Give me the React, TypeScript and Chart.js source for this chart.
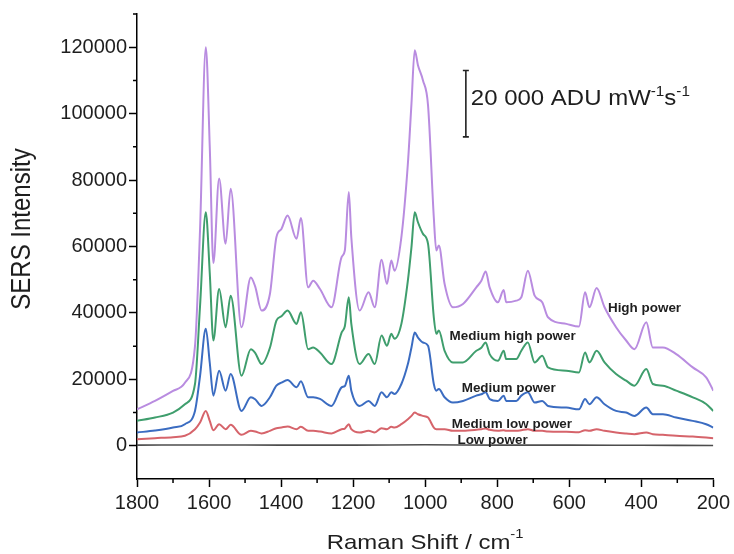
import React, { useEffect, useRef } from "react";
import { Chart, registerables } from "chart.js";

Chart.register(...registerables);

// Raman shift positions (cm-1) at which the spectra were read
const SHIFTS = [
  1800, 1750, 1700, 1667, 1639, 1625, 1609, 1598, 1588, 1572,
  1554, 1540, 1510, 1484, 1472, 1454, 1431, 1413, 1399, 1382,
  1357, 1345, 1325, 1311, 1292, 1260, 1232, 1223, 1212, 1205,
  1182, 1157, 1140, 1121, 1106, 1094, 1085, 1066, 1048, 1038,
  1029, 1020, 1006, 992, 976, 969, 962, 946, 923, 895,
  858, 844, 832, 821, 798, 782, 775, 747, 733, 715,
  696, 675, 659, 608, 573, 556, 544, 524, 502, 470,
  442, 419, 386, 368, 340, 303, 257, 220, 200,
];

const HIGH = [
  11000, 13500, 16500, 19000, 30000, 65000, 120000, 90000, 55000, 80500,
  60800, 77400, 35700, 50700, 48000, 40700, 45700, 62800, 65300, 69300,
  62300, 68600, 47700, 49700, 47200, 41700, 56800, 58800, 76400, 62800,
  40700, 46200, 41700, 56000, 48700, 55800, 52700, 62800, 84900, 103000,
  119100, 114600, 110000, 102500, 68800, 58800, 60300, 48700, 41700, 42700,
  47700, 49700, 52500, 47700, 43200, 46900, 43200, 43700, 44700, 52700,
  45200, 43200, 38700, 36700, 35900, 46200, 41700, 47500, 41700, 35700,
  31700, 29100, 37200, 29600, 29600, 27600, 23600, 20600, 16600,
];

const MEDIUM_HIGH = [
  7500, 8500, 10000, 12500, 18600, 42000, 70300, 52000, 31700, 47200,
  35700, 45200, 21100, 29100, 28000, 24600, 29500, 37700, 39000, 40700,
  36700, 40200, 29100, 29600, 28100, 24600, 34100, 36000, 44700, 36700,
  24600, 27600, 24600, 33200, 30100, 33700, 32200, 36700, 49700, 59800,
  70300, 67300, 63800, 60800, 38700, 33700, 34700, 28600, 25100, 25100,
  28600, 29500, 31100, 27600, 25600, 28600, 26100, 26100, 28600, 31100,
  25100, 27100, 23600, 22600, 22100, 28100, 25100, 28600, 25100, 21600,
  19600, 18100, 23100, 18600, 18100, 16600, 14600, 12600, 10500,
];

const MEDIUM = [
  4000, 4600, 5500, 6500, 10500, 21000, 35200, 25000, 15100, 22600,
  16600, 21600, 10500, 14600, 14000, 12000, 14600, 18100, 19000, 19800,
  17600, 19400, 14600, 14600, 14100, 12000, 17600, 18000, 21100, 16600,
  12000, 13500, 12000, 16100, 14600, 16100, 15600, 18600, 24600, 29600,
  34100, 32600, 31100, 30100, 18600, 16600, 17100, 14600, 13000, 13500,
  15100, 15500, 16100, 14100, 13500, 15100, 13500, 13500, 15100, 16100,
  13000, 13500, 12000, 11500, 11000, 14100, 12500, 14600, 12500, 10500,
  10000, 9000, 11500, 9500, 9500, 8500, 7500, 6500, 5500,
];

const MEDIUM_LOW = [
  2000, 2300, 2600, 3000, 5000, 7000, 10500, 7500, 4700, 6500,
  5000, 6300, 3300, 4500, 4300, 3700, 4500, 5300, 5500, 5800,
  5000, 5700, 4500, 4500, 4300, 3700, 5000, 5200, 6500, 5000,
  4000, 4500, 4000, 5300, 5000, 5700, 5500, 6500, 8000, 9000,
  10000, 9500, 9000, 8500, 5500, 5000, 5000, 5000, 4500, 4500,
  4800, 5000, 5200, 4800, 4500, 4700, 4500, 4500, 4700, 5000,
  4500, 4500, 4300, 4200, 4100, 4700, 4500, 5000, 4500, 4000,
  3700, 3500, 4000, 3500, 3300, 3000, 2800, 2500, 2300,
];

const LOW_SHIFTS = [1800, 1600, 1400, 1200, 1000, 800, 600, 400, 200];
const LOW = [200, 250, 200, 200, 300, 200, 200, 150, 100];

const SERIES_NAMES = ["High power", "Medium high power", "Medium power", "Medium low power", "Low power"];

// label anchors in data units (shift, intensity)
const LABEL_SHIFT = [391, 757, 768, 759, 813];
const LABEL_INTENSITY = [41600, 33200, 17500, 6700, 1700];

const X_TICKS = [1800, 1600, 1400, 1200, 1000, 800, 600, 400, 200];
const X_MINOR = [1700, 1500, 1300, 1100, 900, 700, 500, 300];
const Y_TICKS = [0, 20000, 40000, 60000, 80000, 100000, 120000];
const Y_MINOR = [10000, 30000, 50000, 70000, 90000, 110000, 130000];

// scale bar: 20 000 units
const BAR_SHIFT = 887;
const BAR_FROM = 93000;
const BAR_SPAN = 20000;

const FONT = '"Liberation Sans", Arial, Helvetica, sans-serif';
const TEXT = "#1e1e1e";

type Part = { text: string; size: number; weight?: string; rise?: number };

function drawParts(ctx: CanvasRenderingContext2D, parts: Part[], x: number, y: number, align: string, sx: number) {
  let total = 0;
  for (const p of parts) {
    ctx.font = `${p.weight || "normal"} ${p.size}px ${FONT}`;
    total += ctx.measureText(p.text).width;
  }
  const start = align === "center" ? x - (total * sx) / 2 : align === "right" ? x - total * sx : x;
  ctx.save();
  ctx.translate(start, y);
  ctx.scale(sx, 1);
  ctx.textAlign = "left";
  ctx.textBaseline = "alphabetic";
  ctx.fillStyle = TEXT;
  let cx = 0;
  for (const p of parts) {
    ctx.font = `${p.weight || "normal"} ${p.size}px ${FONT}`;
    ctx.fillText(p.text, cx, -(p.rise || 0));
    cx += ctx.measureText(p.text).width;
  }
  ctx.restore();
}

const annotations = {
  id: "annotations",
  afterDraw(chart: any) {
    const ctx: CanvasRenderingContext2D = chart.ctx;
    const xs = chart.scales.x;
    const ys = chart.scales.y;
    const area = chart.chartArea;

    // minor ticks
    ctx.save();
    ctx.strokeStyle = "#000";
    ctx.lineWidth = 1.5;
    ctx.beginPath();
    for (const v of X_MINOR) {
      const px = xs.getPixelForValue(v);
      ctx.moveTo(px, area.bottom);
      ctx.lineTo(px, area.bottom + 4);
    }
    for (const v of Y_MINOR) {
      const py = ys.getPixelForValue(v);
      ctx.moveTo(area.left, py);
      ctx.lineTo(area.left - 4, py);
    }
    ctx.stroke();

    // scale bar
    const bx = xs.getPixelForValue(BAR_SHIFT);
    const b1 = ys.getPixelForValue(BAR_FROM);
    const b2 = ys.getPixelForValue(BAR_FROM + BAR_SPAN);
    ctx.strokeStyle = "#222";
    ctx.lineWidth = 1.6;
    ctx.beginPath();
    ctx.moveTo(bx, b1);
    ctx.lineTo(bx, b2);
    ctx.moveTo(bx - 3, b1);
    ctx.lineTo(bx + 3, b1);
    ctx.moveTo(bx - 3, b2);
    ctx.lineTo(bx + 3, b2);
    ctx.stroke();
    ctx.restore();

    drawParts(
      ctx,
      [
        { text: "20 000 ADU mW", size: 22 },
        { text: "-1", size: 14, rise: 9 },
        { text: "s", size: 22 },
        { text: "-1", size: 14, rise: 9 },
      ],
      bx + 5,
      (b1 + b2) / 2 + 1,
      "left",
      1.09
    );

    // series labels
    SERIES_NAMES.forEach((name, i) => {
      const px = xs.getPixelForValue(LABEL_SHIFT[i]);
      const py = ys.getPixelForValue(LABEL_INTENSITY[i]);
      drawParts(ctx, [{ text: name, size: 12, weight: "bold" }], px, py + 4, "center", 1.12);
    });

    // x title
    drawParts(
      ctx,
      [
        { text: "Raman Shift / cm", size: 21 },
        { text: "-1", size: 13, rise: 11 },
      ],
      (area.left + area.right) / 2,
      549,
      "center",
      1.14
    );

    // y title
    ctx.save();
    ctx.translate(23, 229);
    ctx.rotate(-Math.PI / 2);
    ctx.scale(1, 1.12);
    ctx.font = `normal 24px ${FONT}`;
    ctx.fillStyle = TEXT;
    ctx.textAlign = "center";
    ctx.textBaseline = "middle";
    ctx.fillText("SERS Intensity", 0, 0);
    ctx.restore();
  },
};

function pairs(xs: number[], ys: number[]) {
  return xs.map((x, i) => ({ x, y: ys[i] }));
}

export default function App() {
  const ref = useRef<HTMLCanvasElement | null>(null);

  useEffect(() => {
    if (!ref.current) return;
    const line = (label: string, data: any[], color: string, width = 2) => ({
      label,
      data,
      borderColor: color,
      backgroundColor: color,
      borderWidth: width,
      pointRadius: 0,
      fill: false,
      cubicInterpolationMode: "monotone" as const,
    });
    const chart = new Chart(ref.current, {
      type: "line",
      data: {
        datasets: [
          line(SERIES_NAMES[4], pairs(LOW_SHIFTS, LOW), "#4d4d4d", 1.6),
          line(SERIES_NAMES[3], pairs(SHIFTS, MEDIUM_LOW), "#d6646b"),
          line(SERIES_NAMES[2], pairs(SHIFTS, MEDIUM), "#3b6cc1"),
          line(SERIES_NAMES[1], pairs(SHIFTS, MEDIUM_HIGH), "#3f9e6d"),
          line(SERIES_NAMES[0], pairs(SHIFTS, HIGH), "#b98ce0"),
        ],
      },
      options: {
        responsive: false,
        animation: false,
        layout: { padding: { top: 13, right: 20, left: 0, bottom: 0 } },
        plugins: { legend: { display: false }, tooltip: { enabled: false } },
        scales: {
          x: {
            type: "linear",
            reverse: true,
            min: 200,
            max: 1800,
            afterBuildTicks: (s: any) => {
              s.ticks = X_TICKS.map((v) => ({ value: v }));
            },
            afterFit: (s: any) => {
              s.height = 75;
            },
            border: { display: true, color: "#000", width: 1.5 },
            grid: { drawOnChartArea: false, drawTicks: true, tickLength: 8, color: "#000", tickWidth: 1.5 },
            ticks: {
              color: TEXT,
              font: { family: FONT, size: 20 },
              padding: 4,
              maxRotation: 0,
              autoSkip: false,
              callback: (v: any) => String(v),
            },
          },
          y: {
            type: "linear",
            min: -10000,
            max: 130000,
            afterBuildTicks: (s: any) => {
              s.ticks = Y_TICKS.map((v) => ({ value: v }));
            },
            afterFit: (s: any) => {
              s.width = 137;
            },
            border: { display: true, color: "#000", width: 1.5 },
            grid: { drawOnChartArea: false, drawTicks: true, tickLength: 8, color: "#000", tickWidth: 1.5 },
            ticks: {
              color: TEXT,
              font: { family: FONT, size: 20 },
              padding: 2,
              autoSkip: false,
              callback: (v: any) => String(v),
            },
          },
        },
      },
      plugins: [annotations],
    });
    return () => chart.destroy();
  }, []);

  return (
    <div style={{ position: "absolute", left: 0, top: 0, width: 734, height: 554, background: "#fff" }}>
      <canvas ref={ref} width={734} height={554} style={{ width: 734, height: 554, display: "block" }} />
    </div>
  );
}
